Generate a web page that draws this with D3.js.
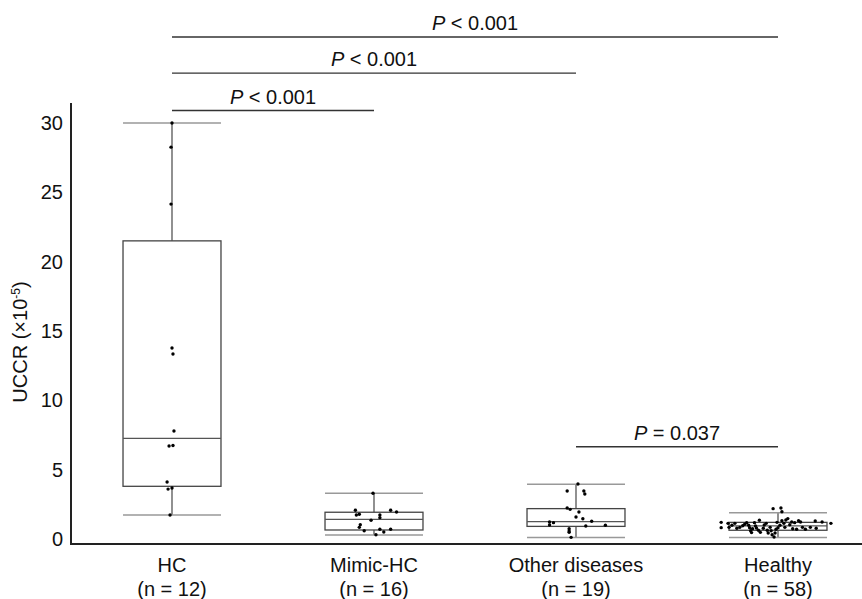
<!DOCTYPE html>
<html>
<head>
<meta charset="utf-8">
<script src="https://cdn.jsdelivr.net/npm/d3@7/dist/d3.min.js"></script>
<style>
  body { margin: 0; background: #fff; }
  svg { font-family: "Liberation Sans", Arial, sans-serif; }
</style>
</head>
<body>
<div id="chart"></div>
<script>
// Data

var groups = ["HC", "Mimic-HC", "Other diseases", "Healthy"];
var groupN = ["(n = 12)", "(n = 16)", "(n = 19)", "(n = 58)"];
var yTicks = [0, 5, 10, 15, 20, 25, 30];

// box stats: [lower whisker, q1, median, q3, upper whisker]
var boxHC      = [1.73, 3.8, 7.25, 21.5, 30.0];
var boxMimic   = [0.29, 0.65, 1.42, 1.93, 3.3];
var boxOther   = [0.1, 0.91, 1.25, 2.19, 3.94];
var boxHealthy = [0.1, 0.63, 0.95, 1.2, 1.9];

// individual values and horizontal jitter (fraction of box width)
var ptsHC = [30.0, 28.26, 24.15, 13.77, 13.34, 7.79, 6.71, 6.74, 4.11, 3.6, 3.68, 1.73];
var jitHC = [0, -0.01, -0.01, 0, 0.01, 0.02, -0.03, 0.01, -0.05, -0.04, 0, -0.02];

var ptsMimic = [3.3, 2.07, 1.73, 1.78, 2.07, 1.95, 1.73, 1.54, 1.35, 1.03, 0.84, 0.6, 0.7, 0.5, 0.7, 0.31];
var jitMimic = [-0.01, -0.19, -0.18, -0.15, 0.17, 0.23, 0.06, 0.06, -0.03, -0.14, -0.15, -0.10, 0.06, 0.10, 0.17, 0.02];

var ptsOther = [3.97, 3.46, 3.46, 3.24, 2.24, 2.14, 1.95, 1.59, 1.46, 1.28, 1.23, 1.18, 1.01, 0.94, 0.99, 0.74, 0.58, 0.48, 0.12];
var jitOther = [0.02, -0.09, 0.08, 0.09, -0.09, -0.06, 0.03, 0, 0.07, 0.16, -0.27, -0.23, -0.27, 0.10, 0.30, -0.07, -0.07, -0.07, -0.05];

var ptsHealthy = [1.20, 0.82, 1.13, 0.84, 0.99, 1.13, 0.77, 0.84, 0.96, 1.06,
                  1.18, 0.99, 0.82, 0.60, 0.46, 0.74, 1.18, 0.94, 0.79, 0.63,
                  1.35, 0.48, 0.77, 1.01, 1.13, 0.63, 0.43, 0.84, 0.60, 0.31,
                  0.14, 0.43, 2.19, 0.70, 1.20, 0.82, 0.99, 2.24, 1.97, 1.32,
                  1.13, 0.84, 1.37, 1.47, 1.03, 1.23, 0.74, 1.18, 0.70, 1.32,
                  1.23, 0.84, 0.70, 0.84, 1.30, 0.77, 1.23, 1.13];
var jitHealthy = [-0.58, -0.58, -0.51, -0.50, -0.47, -0.44, -0.42, -0.39, -0.36, -0.34,
                  -0.32, -0.30, -0.29, -0.28, -0.27, -0.26, -0.24, -0.23, -0.22, -0.20,
                  -0.19, -0.18, -0.15, -0.14, -0.12, -0.11, -0.10, -0.08, -0.07, -0.06,
                  -0.04, -0.03, -0.05, -0.02, -0.01, 0.00, 0.02, 0.03, 0.04, 0.04,
                  0.06, 0.07, 0.08, 0.10, 0.12, 0.14, 0.15, 0.17, 0.19, 0.21,
                  0.23, 0.25, 0.28, 0.33, 0.38, 0.39, 0.45, 0.54];

// significance brackets: [from group, to group, level (y units), label]
var sigFrom  = ["HC", "HC", "HC", "Other diseases"];
var sigTo    = ["Healthy", "Other diseases", "Mimic-HC", "Healthy"];
var sigLevel = [36.2, 33.6, 30.9, 6.65];
var sigOp    = ["<", "<", "<", "="];
var sigP     = ["0.001", "0.001", "0.001", "0.037"];

var boxes  = [boxHC, boxMimic, boxOther, boxHealthy];
var points = [ptsHC, ptsMimic, ptsOther, ptsHealthy];
var jitter = [jitHC, jitMimic, jitOther, jitHealthy];

// Layout

var width = 862, height = 599;
var axisX = 71, axisBottom = 544, axisTop = 103;
var fs = "20px";

var svg = d3.select("#chart").append("svg")
    .attr("width", width)
    .attr("height", height);

var x = d3.scaleBand()
    .domain(groups)
    .range([axisX, 879]);

var y = d3.scaleLinear()
    .domain([0, 30])
    .range([539, 123]);

var bw = x.bandwidth() * 0.485;
function cx(g) { return x(g) + x.bandwidth() / 2; }

// Y axis labels
var yAxis = d3.axisLeft(y)
    .tickValues(yTicks)
    .tickSize(0)
    .tickPadding(8);

var ga = svg.append("g")
    .attr("transform", "translate(" + axisX + ",0)")
    .call(yAxis);
ga.select(".domain").remove();
ga.selectAll("text")
    .style("font-family", "Liberation Sans, Arial, sans-serif")
    .style("font-size", fs)
    .attr("fill", "#111");

// axis lines
svg.append("line")
    .attr("x1", axisX).attr("x2", axisX)
    .attr("y1", axisTop).attr("y2", axisBottom + 1)
    .attr("stroke", "#222").attr("stroke-width", 2);
svg.append("line")
    .attr("x1", axisX - 1).attr("x2", width)
    .attr("y1", axisBottom).attr("y2", axisBottom)
    .attr("stroke", "#222").attr("stroke-width", 2);

// y label
svg.append("text")
    .attr("transform", "translate(27,342) rotate(-90)")
    .attr("text-anchor", "middle")
    .style("font-size", fs)
    .attr("fill", "#111")
    .text("UCCR (×10")
    .append("tspan")
      .attr("dy", -7)
      .style("font-size", "12px")
      .text("-5")
    .select(function() { return this.parentNode; })
    .append("tspan")
      .attr("dy", 7)
      .text(")");

// Boxes

groups.forEach(function(g, i) {
    var b = boxes[i];
    var c = cx(g);
    var gg = svg.append("g");

    // whiskers
    gg.append("line")
        .attr("x1", c).attr("x2", c)
        .attr("y1", y(b[3])).attr("y2", y(b[4]))
        .attr("stroke", "#555").attr("stroke-width", 1.3);
    gg.append("line")
        .attr("x1", c).attr("x2", c)
        .attr("y1", y(b[0])).attr("y2", y(b[1]))
        .attr("stroke", "#555").attr("stroke-width", 1.3);

    // caps
    [b[0], b[4]].forEach(function(v) {
        gg.append("line")
            .attr("x1", c - bw / 2).attr("x2", c + bw / 2)
            .attr("y1", y(v)).attr("y2", y(v))
            .attr("stroke", "#999").attr("stroke-width", 1.5);
    });

    // box
    gg.append("rect")
        .attr("x", c - bw / 2)
        .attr("y", y(b[3]))
        .attr("width", bw)
        .attr("height", y(b[1]) - y(b[3]))
        .attr("fill", "none")
        .attr("stroke", "#444").attr("stroke-width", 1.3);

    // median
    gg.append("line")
        .attr("x1", c - bw / 2).attr("x2", c + bw / 2)
        .attr("y1", y(b[2])).attr("y2", y(b[2]))
        .attr("stroke", "#555").attr("stroke-width", 1.2);

    // points
    gg.selectAll("circle")
        .data(points[i])
      .enter().append("circle")
        .attr("cx", function(d, j) { return c + jitter[i][j] * bw; })
        .attr("cy", function(d) { return y(d); })
        .attr("r", 1.7)
        .attr("fill", "#000");
});

// Category labels
groups.forEach(function(g, i) {
    svg.append("text")
        .attr("x", cx(g)).attr("y", 572)
        .attr("text-anchor", "middle")
        .style("font-size", fs)
        .attr("fill", "#111")
        .text(g);
    svg.append("text")
        .attr("x", cx(g)).attr("y", 596)
        .attr("text-anchor", "middle")
        .style("font-size", fs)
        .attr("fill", "#111")
        .text(groupN[i]);
});

// Significance brackets
sigLevel.forEach(function(lv, i) {
    var x1 = cx(sigFrom[i]), x2 = cx(sigTo[i]);
    svg.append("line")
        .attr("x1", x1).attr("x2", x2)
        .attr("y1", y(lv)).attr("y2", y(lv))
        .attr("stroke", "#333").attr("stroke-width", 1.4);
    var t = svg.append("text")
        .attr("x", (x1 + x2) / 2)
        .attr("y", y(lv) - 7)
        .attr("text-anchor", "middle")
        .style("font-size", fs)
        .attr("fill", "#111");
    t.append("tspan").style("font-style", "italic").text("P");
    t.append("tspan").text(" " + sigOp[i] + " " + sigP[i]);
});
</script>
</body>
</html>
